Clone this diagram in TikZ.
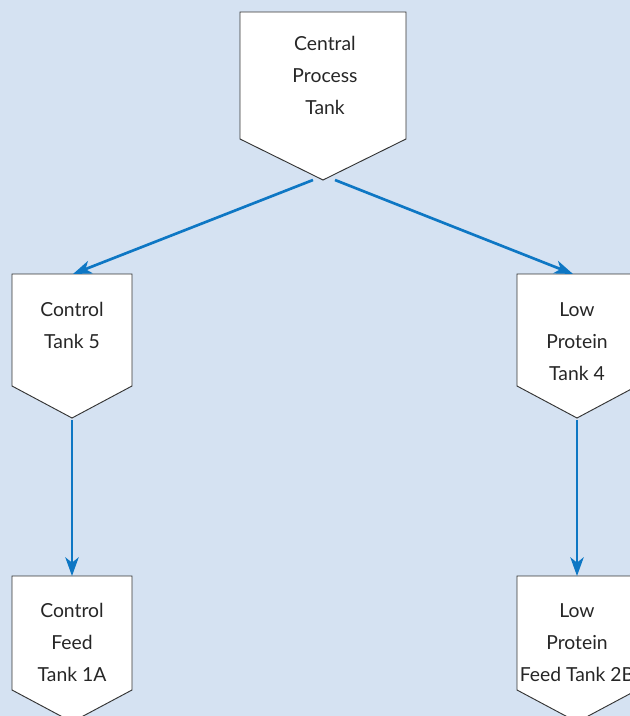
\documentclass[tikz,border=0pt]{standalone}
\usepackage{fontspec}
\setmainfont{Lato}
\usetikzlibrary{arrows.meta}

\definecolor{paleblue}{RGB}{213,226,242}
\definecolor{flowblue}{RGB}{14,119,196}

\begin{document}
\begin{tikzpicture}[
    x=0.75pt, y=-0.75pt, % pixel grid, y downwards
    tank/.style={draw=black!80, fill=white, line width=0.7pt},
    tanklabel/.style={
      anchor=north,
      inner sep=0pt,
      align=center,
      text=black!85,
      font=\fontsize{14.5}{24}\selectfont
    },
    flow/.style={draw=flowblue, line width=2pt, -{Stealth[length=14pt, width=10pt, inset=4pt]}},
  ]
    % background and frame
    \fill[paleblue] (0,0) rectangle (630,716);
    \useasboundingbox (0,0) rectangle (630,716);
    \clip (0,0) rectangle (630,716);

    % Central Process Tank
    \draw[tank] (240,12) -- (406,12) -- (406,139) -- (323,180) -- (240,139) -- cycle;
    \coordinate (central tip) at (323,180);
    \node[tanklabel] (central) at (325,36) {Central\\Process\\Tank};

    % Control Tank 5
    \draw[tank] (12,274) -- (132,274) -- (132,386) -- (72,418) -- (12,386) -- cycle;
    \coordinate (ctrl5 top) at (73,274);
    \coordinate (ctrl5 tip) at (72,418);
    \node[tanklabel] (ctrl5) at (72,302) {Control\\Tank 5};

    % Low Protein Tank 4
    \draw[tank] (517,274) -- (637,274) -- (637,386) -- (577,418) -- (517,386) -- cycle;
    \coordinate (lowp4 top) at (573,274);
    \coordinate (lowp4 tip) at (577,418);
    \node[tanklabel] (lowp4) at (577,302) {Low\\Protein\\Tank 4};

    % Control Feed Tank 1A
    \draw[tank] (12,576) -- (132,576) -- (132,690) -- (72,722) -- (12,690) -- cycle;
    \coordinate (feed1a top) at (72,576);
    \node[tanklabel] (feed1a) at (72,603) {Control\\Feed\\Tank 1A};

    % Low Protein Feed Tank 2B
    \draw[tank] (517,576) -- (637,576) -- (637,690) -- (577,722) -- (517,690) -- cycle;
    \coordinate (feed2b top) at (577,576);
    \node[tanklabel] (feed2b) at (577,603) {Low\\Protein\\Feed Tank 2B};

    % flows out of the central tank, offset from its tip
    \draw[flow] (central tip) ++(-10,0) -- (ctrl5 top);
    \draw[flow] (central tip) ++(12,0) -- (lowp4 top);

    % flows down to the feed tanks
    \draw[flow] (ctrl5 tip) ++(0,2) -- (feed1a top);
    \draw[flow] (lowp4 tip) ++(0,2) -- (feed2b top);
  \end{tikzpicture}
\end{document}
